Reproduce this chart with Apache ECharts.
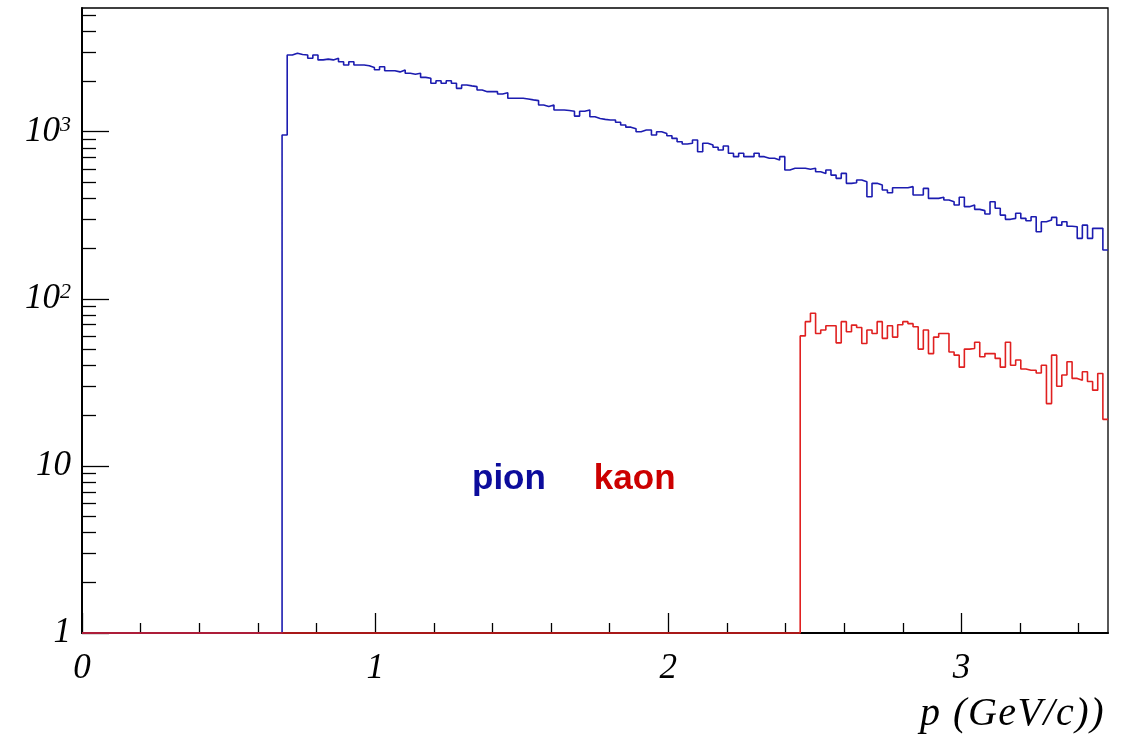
<!DOCTYPE html>
<html>
<head>
<meta charset="utf-8">
<script src="https://cdn.jsdelivr.net/npm/echarts@6/dist/echarts.min.js"></script>
<style>
html,body{margin:0;padding:0;background:#fff;}
#chart{width:1129px;height:734px;}
</style>
</head>
<body>
<div id="chart"></div>
<script>
// Histogram definition: 200 bins between 0 and 3.5 GeV/c
var nBins = 200;
var xMin = 0;
var xMax = 3.5;

// pion counts, bins 39..199
var pionFirstBin = 39;
var pionCounts = [
  955, 2880, 2950, 2900, 2880, 2750, 2880, 2690, 2720, 2690,
  2750, 2625, 2506, 2625, 2506, 2506, 2480, 2420, 2350, 2449,
  2318, 2318, 2280, 2340, 2237, 2210, 2237, 2115, 2088, 1949,
  2020, 1949, 2020, 1949, 1818, 1905, 1880, 1861, 1778, 1737,
  1737, 1737, 1680, 1710, 1585, 1585, 1585, 1570, 1550, 1535,
  1445, 1415, 1445, 1349, 1349, 1340, 1325, 1240, 1325, 1349,
  1230, 1200, 1185, 1175, 1175, 1140, 1097, 1065, 1040, 1000,
  1023, 1023, 955, 1000, 977, 945, 912, 870, 844, 853,
  892, 759, 853, 832, 807, 777, 821, 743, 709, 743,
  709, 709, 743, 709, 693, 693, 677, 709, 590, 604,
  604, 604, 596, 604, 576, 563, 590, 550, 526, 563,
  491, 495, 514, 502, 408, 491, 480, 448, 431, 462,
  462, 462, 469, 418, 418, 458, 399, 399, 405, 390,
  381, 364, 405, 356, 364, 343, 337, 322, 381, 348,
  317, 299, 303, 325, 303, 293, 310, 252, 289, 296,
  307, 276, 289, 272, 270, 230, 276, 230, 264, 264,
  196
];

// kaon counts, bins 140..199
var kaonFirstBin = 140;
var kaonCounts = [
  60, 73, 82, 62, 65, 69, 69, 54.5, 73, 63.5,
  69.6, 67.4, 54, 65, 62, 73, 58, 69, 59, 70,
  73, 71, 68, 50, 65, 47, 59, 62, 62, 48,
  46, 39, 50, 50.4, 55, 45, 47, 47, 44, 39,
  55, 40, 43, 38, 37.4, 37.4, 36, 40, 23.6, 46,
  30, 35, 42, 33.4, 32.6, 36.6, 32, 28.4, 35.7, 19
];

// axis ticks and labels
var xMinorTicks = [0.2, 0.4, 0.6, 0.8, 1.2, 1.4, 1.6, 1.8, 2.2, 2.4, 2.6, 2.8, 3.2, 3.4];
var xMajorTicks = [0, 1, 2, 3];
var yMin = 1;
var yMax = 5500;
var yMajorTicks = [1, 10, 100, 1000];
var yMinorTicks = [2, 3, 4, 5, 6, 7, 8, 9, 20, 30, 40, 50, 60, 70, 80, 90,
                   200, 300, 400, 500, 600, 700, 800, 900, 2000, 3000, 4000, 5000];
var seriesNames = ['pion', 'kaon'];
var xTitle = 'p (GeV/c))';

function buildSteps(firstBin, counts) {
  var w = (xMax - xMin) / nBins;
  var pts = [];
  for (var k = 0; k < nBins; k++) {
    var idx = k - firstBin;
    var c = (idx >= 0 && idx < counts.length) ? counts[idx] : 0;
    // empty bins sit on the log axis floor
    pts.push([xMin + k * w, c > 0 ? c : yMin]);
  }
  pts.push([xMax, pts[pts.length - 1][1]]);
  return pts;
}

// slightly spaced title (ROOT TLatex draws glyphs with wider spacing)
function spacedTitle(s) {
  return s.split('').map(function (ch) { return '{t|' + ch + '}'; }).join('');
}

var serif = '"Liberation Serif", "DejaVu Serif", serif';
var axisBlack = '#000';

var chart = echarts.init(document.getElementById('chart'), null, {renderer: 'canvas'});
chart.setOption({
  animation: false,
  backgroundColor: '#fff',
  grid: {
    left: 82, right: 21, top: 8, bottom: 101,
    show: true, borderColor: '#000', borderWidth: 1.3, backgroundColor: 'transparent'
  },
  legend: {
    left: 467, top: 462, padding: 0, itemGap: 43,
    icon: 'none', itemWidth: 0, itemHeight: 0, selectedMode: false,
    textStyle: {fontFamily: '"Liberation Sans", Arial, sans-serif', fontWeight: 'bold', fontSize: 35, padding: 0},
    data: [
      {name: seriesNames[0], textStyle: {color: '#0c0c9c'}},
      {name: seriesNames[1], textStyle: {color: '#cc0000'}}
    ]
  },
  xAxis: [
    {
      type: 'value', min: xMin, max: xMax, position: 'bottom',
      axisLine: {show: true, onZero: false, lineStyle: {color: axisBlack, width: 2}},
      axisTick: {show: true, inside: true, length: 10, customValues: xMinorTicks, lineStyle: {color: axisBlack, width: 1.3}},
      axisLabel: {show: false},
      splitLine: {show: false},
      name: spacedTitle(xTitle),
      nameLocation: 'end',
      nameGap: -3,
      nameTextStyle: {
        fontFamily: serif, fontStyle: 'italic', fontSize: 40, color: '#000',
        align: 'right', verticalAlign: 'top', padding: [61, 0, 0, 0],
        rich: {
          t: {fontFamily: serif, fontStyle: 'italic', fontSize: 40, color: '#000', padding: [0, 1.5, 0, 0]}
        }
      }
    },
    {
      type: 'value', min: xMin, max: xMax, position: 'bottom',
      axisLine: {show: false, onZero: false},
      axisTick: {show: true, inside: true, length: 20, customValues: xMajorTicks, lineStyle: {color: axisBlack, width: 1.3}},
      axisLabel: {
        show: true, customValues: xMajorTicks, margin: 18,
        fontFamily: serif, fontStyle: 'italic', fontSize: 35, color: '#000'
      },
      splitLine: {show: false}
    }
  ],
  yAxis: [
    {
      type: 'log', logBase: 10, min: yMin, max: yMax, position: 'left',
      axisLine: {show: true, onZero: false, lineStyle: {color: axisBlack, width: 2}},
      axisTick: {show: true, inside: true, length: 14, customValues: yMinorTicks, lineStyle: {color: axisBlack, width: 1.3}},
      axisLabel: {show: false},
      splitLine: {show: false}
    },
    {
      type: 'log', logBase: 10, min: yMin, max: yMax, position: 'left',
      axisLine: {show: false, onZero: false},
      axisTick: {show: true, inside: true, length: 27, customValues: yMajorTicks, lineStyle: {color: axisBlack, width: 1.3}},
      axisLabel: {
        show: true, customValues: yMajorTicks, margin: 11,
        formatter: function (v) {
          var e = Math.round(Math.log10(v));
          if (e === 0) return '{b|1}';
          if (e === 1) return '{b|10}';
          return '{b|10}{s|' + e + '}';
        },
        rich: {
          b: {fontFamily: serif, fontStyle: 'italic', fontSize: 35, color: '#000', lineHeight: 35},
          s: {fontFamily: serif, fontStyle: 'italic', fontSize: 22, color: '#000', verticalAlign: 'top', lineHeight: 35, padding: [0, 0, 13, 0]}
        }
      },
      splitLine: {show: false}
    }
  ],
  series: [
    {
      name: seriesNames[0], type: 'line', step: 'end', xAxisIndex: 0, yAxisIndex: 0,
      data: buildSteps(pionFirstBin, pionCounts),
      showSymbol: false, symbol: 'none', clip: false,
      lineStyle: {color: '#1c1cb0', width: 1.6},
      itemStyle: {color: '#1c1cb0'},
      z: 3
    },
    {
      name: seriesNames[1], type: 'line', step: 'end', xAxisIndex: 0, yAxisIndex: 0,
      data: buildSteps(kaonFirstBin, kaonCounts),
      showSymbol: false, symbol: 'none', clip: false,
      lineStyle: {color: '#e02020', width: 1.6},
      itemStyle: {color: '#e02020'},
      z: 4
    }
  ]
});
</script>
</body>
</html>
